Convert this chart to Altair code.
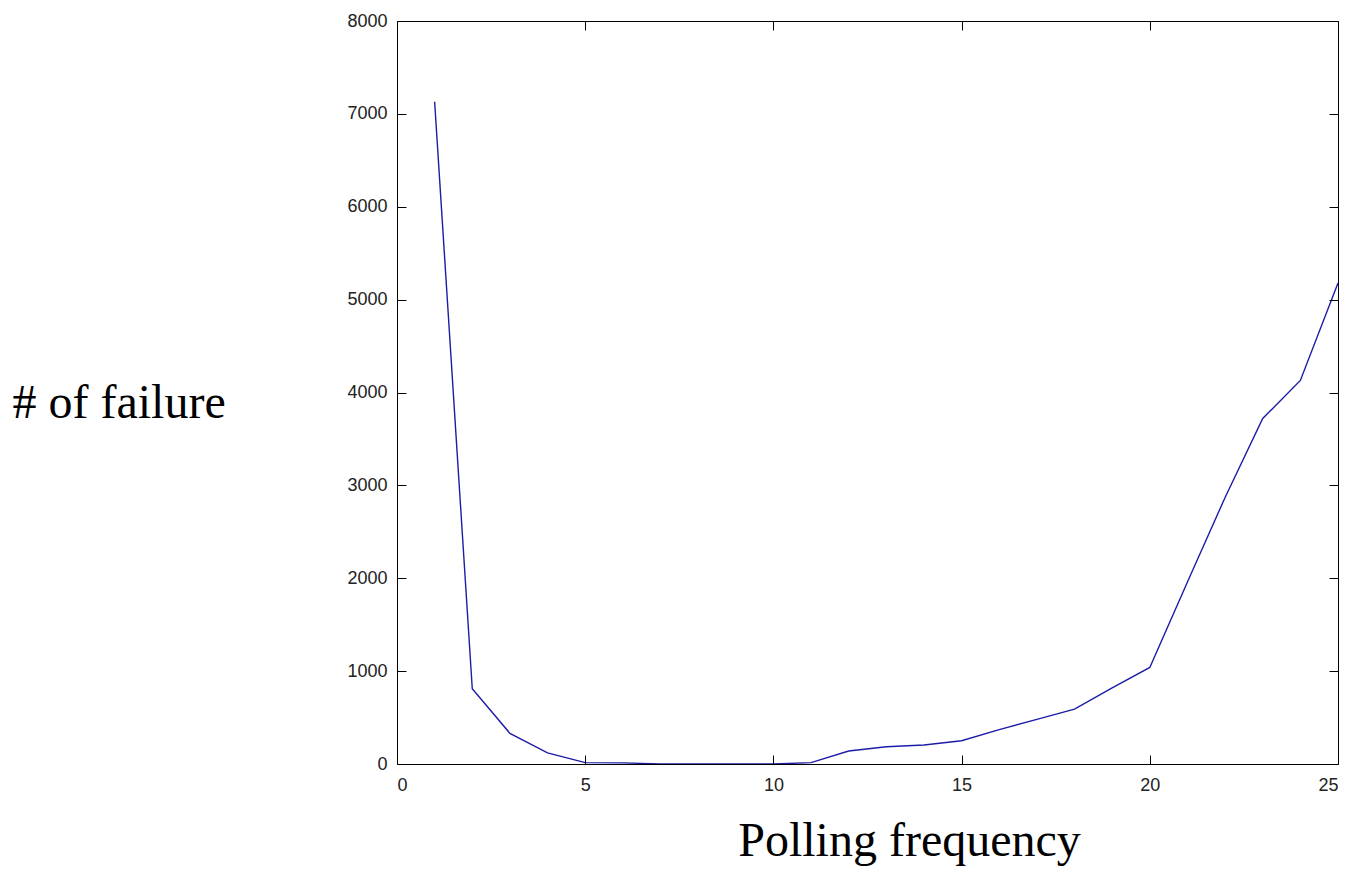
import altair as alt
import pandas as pd

# Data
polling_frequency = [1, 2, 3, 4, 5, 6, 7, 8, 9, 10, 11, 12, 13, 14, 15, 16, 17, 18, 19, 20, 21, 22, 23, 24, 25]
failures = [7130, 810, 330, 120, 15, 12, 0, 0, 0, 0, 15, 140, 185, 205, 250, 370, 480, 590, 820, 1040, 1960, 2870, 3720, 4130, 5180]

x_ticks = [0, 5, 10, 15, 20, 25]
y_ticks = [0, 1000, 2000, 3000, 4000, 5000, 6000, 7000, 8000]

df = pd.DataFrame({"x": polling_frequency, "y": failures})

W, H = 941, 743
PAD_L, PAD_T = 397, 21

xs = alt.Scale(domain=[0, 25], nice=False, zero=False)
ys = alt.Scale(domain=[0, 8000], nice=False)

LABEL_FONT = "Liberation Sans Narrow, Liberation Sans, sans-serif"

common = dict(grid=False, domainColor="black", tickColor="black", domainWidth=1,
              tickWidth=1, tickSize=9, zindex=1)

# Layer with labels: bottom x axis (ticks inward), left y axis (ticks inward)
lab = alt.Chart(df).mark_line(color="#1c1ca8", strokeWidth=1.4).encode(
    x=alt.X("x:Q", scale=xs, axis=alt.Axis(
        orient="top", offset=-H, values=x_ticks, format="d", labelPadding=-21,
        labelBaseline="top", labelFont=LABEL_FONT, labelFontSize=18,
        labelColor="#222222", title="Polling frequency", titleFont="Liberation Serif",
        titleFontSize=48, titleFontWeight="normal", titleColor="black",
        titleX=512, titleY=91, titleAlign="center", titleBaseline="alphabetic",
        titleAngle=0, **common)),
    y=alt.Y("y:Q", scale=ys, axis=alt.Axis(
        orient="right", offset=-W, values=y_ticks, format="d", labelPadding=-19,
        labelAlign="right", labelBaseline="middle", labelFont=LABEL_FONT,
        labelFontSize=18, labelColor="#222222", title="# of failure",
        titleFont="Liberation Serif", titleFontSize=48, titleFontWeight="normal",
        titleColor="black", titleX=-385, titleY=396, titleAlign="left",
        titleBaseline="alphabetic", titleAngle=0, **common)),
)

# Layer with the top and right frame axes (ticks inward, no labels)
frame = alt.Chart(df).mark_line(opacity=0).encode(
    x=alt.X("x:Q", scale=xs, axis=alt.Axis(
        orient="bottom", offset=-H, values=x_ticks, labels=False, title=None, **common)),
    y=alt.Y("y:Q", scale=ys, axis=alt.Axis(
        orient="left", offset=-W, values=y_ticks, labels=False, title=None, **common)),
)

chart = alt.layer(lab, frame).resolve_axis(x="independent", y="independent").properties(
    width=W, height=H,
    autosize=alt.AutoSizeParams(type="none"),
    padding={"left": PAD_L, "top": PAD_T, "right": 1356 - PAD_L - W, "bottom": 890 - PAD_T - H},
    background="white",
).configure_view(stroke=None)

chart.save("out.html", embed_options={"renderer": "svg", "actions": False})
